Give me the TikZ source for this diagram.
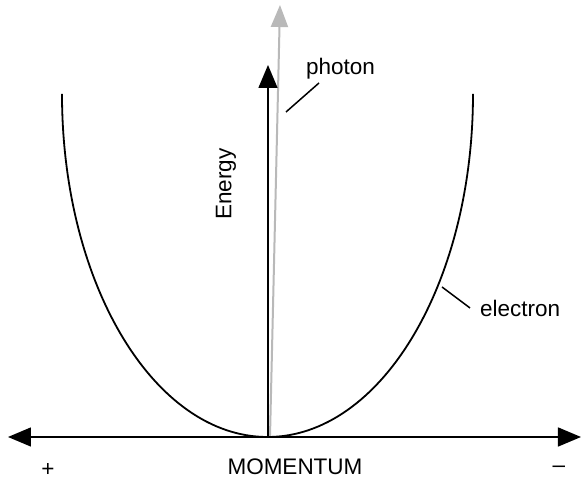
\documentclass[tikz,border=0pt]{standalone}
\usepackage{fontspec}
\setmainfont{Liberation Sans}
\usetikzlibrary{arrows.meta}

\tikzset{
  axis/.style={line width=1.5pt,-{Triangle[length=23pt,width=19pt]}},
  lbl/.style={font=\fontsize{22.5}{27}\selectfont,inner sep=0pt},
  pointer/.style={line width=1.5pt}
}

\begin{document}
\begin{tikzpicture}[x=1pt,y=1pt]
  \useasboundingbox (-267,-44) rectangle (315,437);

  \coordinate (o) at (0,0);
  \coordinate (left) at (-259,0);
  \coordinate (right) at (314,0);
  \coordinate (etop) at (1,372);
  \coordinate (pbot) at (3,0);
  \coordinate (ptop) at (13,432);
  \coordinate (ctop) at (-205,343);

  % momentum axis, both ways
  \draw[axis] (o) -- (left);
  \draw[axis] (o) -- (right);

  % photon line (grey) and energy axis
  \draw[line width=2pt,gray!55,-{Triangle[length=22pt,width=17pt]}] (pbot) -- (ptop);
  \draw[axis] (o) ++(1,0) -- (etop);

  % electron curve
  \draw[line width=1.8pt] (ctop) arc[start angle=180,end angle=360,x radius=205.5,y radius=343];

  \node[lbl,rotate=90] (energy) at (-41,253) {Energy};
  \node[lbl,anchor=base west] (photon) at (39,362) {photon};
  \node[lbl,anchor=base west] (electron) at (213,120) {electron};
  \node[lbl] (momentum) at (28,-30) {MOMENTUM};
  \node[lbl] (plus) at (-219,-33) {+};
  \node[lbl] (minus) at (292,-32) {\textendash};

  \coordinate (phfoot) at (19,325);
  \coordinate (phhead) at (52,354);
  \coordinate (elfoot) at (175,150);
  \coordinate (elhead) at (203,129);
  \draw[pointer] (phfoot) -- (phhead);
  \draw[pointer] (elfoot) -- (elhead);
\end{tikzpicture}
\end{document}
